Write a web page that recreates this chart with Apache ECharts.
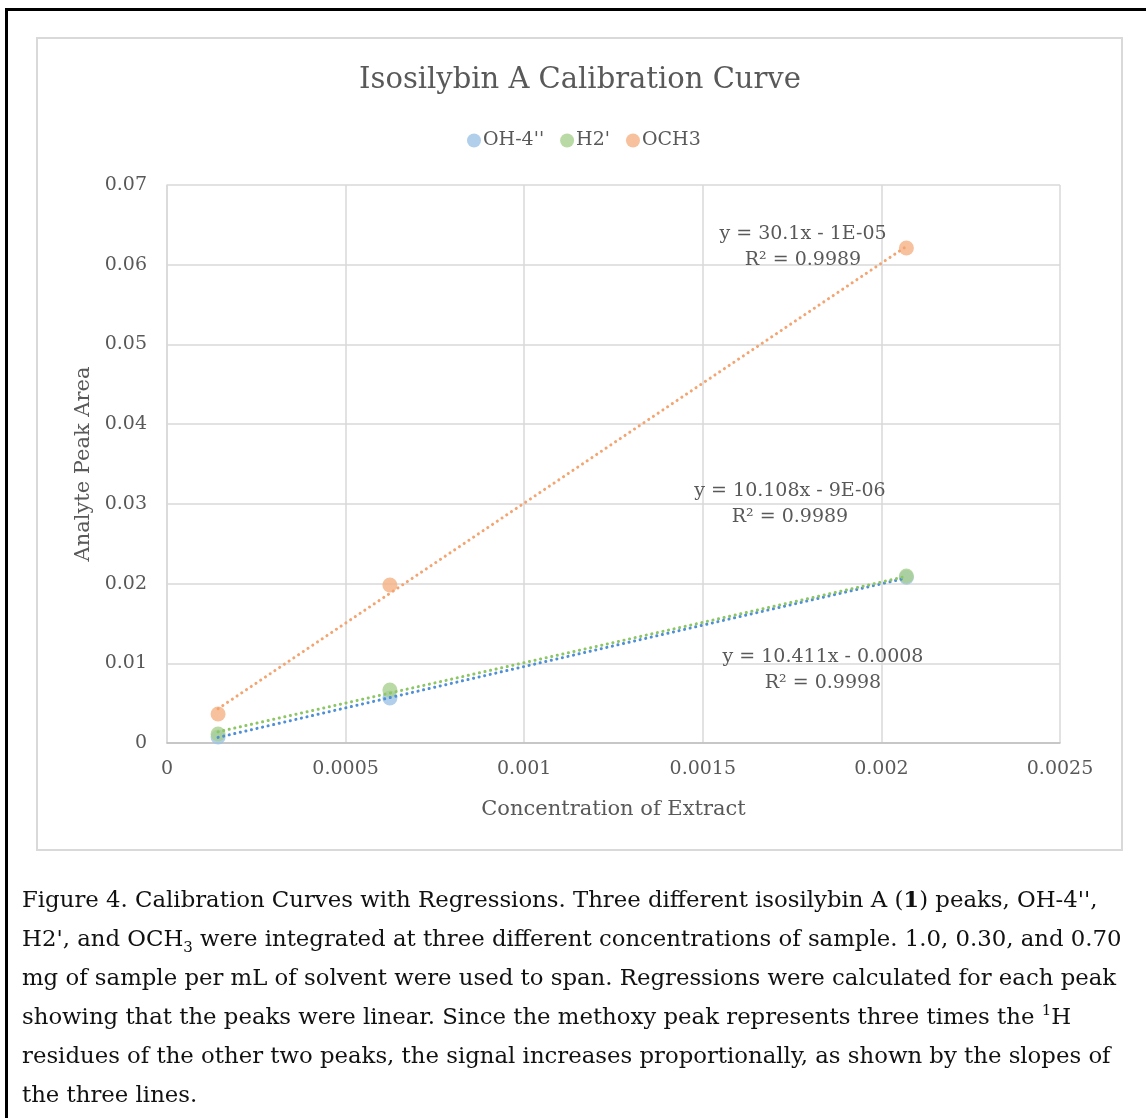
<!DOCTYPE html>
<html>
<head>
<meta charset="utf-8">
<script src="https://cdn.jsdelivr.net/npm/echarts@6/dist/echarts.min.js"></script>
<style>
  body { margin: 0; background: #fff; }
  #frame { position: absolute; left: 5px; top: 8px; width: 1146px; height: 1118px;
    border-left: 3px solid #000; border-top: 3px solid #000; }
  #box { position: absolute; left: 36px; top: 37px; width: 1083px; height: 810px;
    border: 2px solid #d9d9d9; }
  #chart { position: absolute; left: 0; top: 0; width: 1146px; height: 1118px; }
  #caption { position: absolute; left: 22px; top: 880px; width: 1120px;
    font-family: "DejaVu Serif", serif; font-size: 22.8px; line-height: 39px;
    color: #111; white-space: nowrap; }
  #caption sub, #caption sup { font-size: 15px; line-height: 0; }
</style>
</head>
<body>
<div id="frame"></div>
<div id="box"></div>
<div id="chart"></div>
<div id="caption">
Figure 4. Calibration Curves with Regressions. Three different isosilybin A (<b>1</b>) peaks, OH-4'',<br>
H2', and OCH<sub>3</sub> were integrated at three different concentrations of sample. 1.0, 0.30, and 0.70<br>
mg of sample per mL of solvent were used to span. Regressions were calculated for each peak<br>
showing that the peaks were linear. Since the methoxy peak represents three times the <sup>1</sup>H<br>
residues of the other two peaks, the signal increases proportionally, as shown by the slopes of<br>
the three lines.
</div>
<script>
// 数据：浓度与峰面积
const conc = [0.000143, 0.000624, 0.00207];
const ohArea = [0.00075, 0.00565, 0.0208];
const h2Area = [0.00113, 0.00665, 0.02095];
const ochArea = [0.00364, 0.01982, 0.0621];

// 趋势线两端
const ohTrend = [[0.000143, 0.0007], [0.00207, 0.0207]];
const h2Trend = [[0.000143, 0.0014], [0.00207, 0.0209]];
const ochTrend = [[0.000143, 0.0043], [0.00207, 0.0623]];

// 回归公式文字
const eqLabels = [
  { text: "y = 30.1x - 1E-05\nR² = 0.9989", x: 803, y: 247 },
  { text: "y = 10.108x - 9E-06\nR² = 0.9989", x: 790, y: 504 },
  { text: "y = 10.411x - 0.0008\nR² = 0.9998", x: 823, y: 670 },
];

const font = "DejaVu Serif";
const grey = "#595959";

const pts = (ys) => conc.map((x, i) => [x, ys[i]]);

function scatter(name, ys, color) {
  return {
    name,
    type: "scatter",
    data: pts(ys),
    symbol: "circle",
    symbolSize: 15,
    itemStyle: { color },
    z: 2,
  };
}

function trend(data, color) {
  return {
    type: "line",
    data,
    symbol: "none",
    lineStyle: { color, width: 3, type: [0.1, 5.6], cap: "round" },
    silent: true,
    z: 3,
  };
}

const myChart = echarts.init(document.getElementById("chart"));
myChart.setOption({
  animation: false,
  backgroundColor: "transparent",
  textStyle: { fontFamily: font },
  title: {
    text: "Isosilybin A Calibration Curve",
    left: 575,
    textAlign: "center",
    top: 61,
    textStyle: { fontFamily: font, fontSize: 29, fontWeight: "normal", color: grey },
  },
  legend: {
    data: ["OH-4''", "H2'", "OCH3"],
    left: 462,
    top: 126,
    icon: "circle",
    itemWidth: 14,
    itemHeight: 14,
    itemGap: 16,
    textStyle: { fontFamily: font, fontSize: 19, color: grey, padding: [0, 0, 0, -3] },
  },
  grid: { left: 167, top: 185, width: 893, height: 558, containLabel: false },
  xAxis: {
    type: "value",
    min: 0,
    max: 0.0025,
    interval: 0.0005,
    name: "Concentration of Extract",
    nameLocation: "middle",
    nameGap: 56,
    nameTextStyle: { fontFamily: font, fontSize: 21, color: grey },
    axisLine: { lineStyle: { color: "#bfbfbf", width: 1.5 } },
    axisTick: { show: false },
    axisLabel: { fontFamily: font, fontSize: 19, color: grey, margin: 17,
      formatter: (v) => String(v) },
    splitLine: { show: true, lineStyle: { color: "#d9d9d9", width: 1.5 } },
  },
  yAxis: {
    type: "value",
    min: 0,
    max: 0.07,
    interval: 0.01,
    name: "Analyte Peak Area",
    nameLocation: "middle",
    nameGap: 73,
    nameTextStyle: { fontFamily: font, fontSize: 21, color: grey },
    axisLine: { show: true, lineStyle: { color: "#d9d9d9", width: 1.5 } },
    axisTick: { show: false },
    axisLabel: { fontFamily: font, fontSize: 19, color: grey, margin: 20,
      formatter: (v) => String(+v.toFixed(2)) },
    splitLine: { show: true, lineStyle: { color: "#d9d9d9", width: 1.5 } },
  },
  series: [
    scatter("OH-4''", ohArea, "#9dc3e6"),
    scatter("H2'", h2Area, "#a9d18e"),
    scatter("OCH3", ochArea, "#f4b183"),
    trend(ohTrend, "#4f8fd6"),
    trend(h2Trend, "#8cc665"),
    trend(ochTrend, "#f4a470"),
  ],
  graphic: eqLabels.map((l) => ({
    type: "text",
    x: l.x,
    y: l.y,
    z: 10,
    style: {
      text: l.text,
      fontFamily: font,
      fontSize: 19,
      lineHeight: 26,
      fill: grey,
      align: "center",
      verticalAlign: "middle",
    },
  })),
});
</script>
</body>
</html>
